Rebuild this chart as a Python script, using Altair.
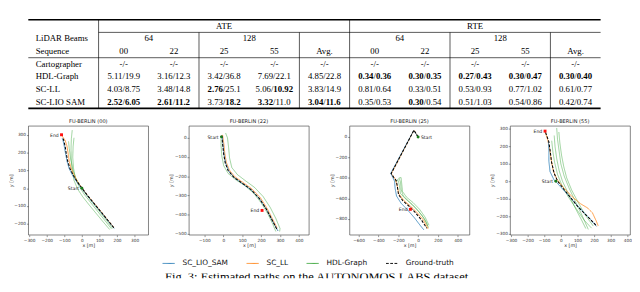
import altair as alt
import pandas as pd

# ---------------- table values ----------------
table_methods = ["Cartographer", "HDL-Graph", "SC-LL", "SC-LIO SAM"]
metric_groups = ["ATE", "RTE"]
beam_groups = ["64", "128", "64", "128"]
sequence_labels = ["00", "22", "25", "55", "Avg.", "00", "22", "25", "55", "Avg."]
# '*' marks a bold number
ate_00 = ["-/-", "5.11/19.9", "4.03/8.75", "*2.52/*6.05"]
ate_22 = ["-/-", "3.16/12.3", "3.48/14.8", "*2.61/*11.2"]
ate_25 = ["-/-", "3.42/36.8", "*2.76/25.1", "3.73/*18.2"]
ate_55 = ["-/-", "7.69/22.1", "5.06/*10.92", "*3.32/11.0"]
ate_avg = ["-/-", "4.85/22.8", "3.83/14.9", "*3.04/*11.6"]
rte_00 = ["-/-", "*0.34/*0.36", "0.81/0.64", "0.35/0.53"]
rte_22 = ["-/-", "*0.30/*0.35", "0.33/0.51", "*0.30/0.54"]
rte_25 = ["-/-", "*0.27/*0.43", "0.53/0.93", "0.51/1.03"]
rte_55 = ["-/-", "*0.30/*0.47", "0.77/1.02", "0.54/0.86"]
rte_avg = ["-/-", "*0.30/*0.40", "0.61/0.77", "0.42/0.74"]
table_columns = [ate_00, ate_22, ate_25, ate_55, ate_avg,
                 rte_00, rte_22, rte_25, rte_55, rte_avg]

# ---------------- trajectories ----------------
methods = ["SC_LIO_SAM", "SC_LL", "HDL-Graph", "Ground-truth"]
method_colors = ["#1f77b4", "#ff7f0e", "#2ca02c", "#000000"]

gt_00 = [(182, -222), (150, -183), (110, -134), (70, -86), (35, -44), (5, -5), (-25, 35), (-50, 75),
         (-68, 112), (-80, 150), (-88, 190), (-95, 235), (-102, 265), (-108, 285)]
lio_00 = [(184, -226), (150, -186), (110, -137), (70, -89), (35, -47), (5, -8), (-27, 33), (-53, 73),
          (-72, 110), (-84, 150), (-92, 190), (-100, 235), (-107, 268), (-112, 282)]
ll_00 = [(180, -218), (148, -180), (108, -130), (68, -82), (32, -40), (2, -1), (-25, 38), (-46, 78),
         (-62, 115), (-72, 152), (-78, 195), (-85, 238), (-95, 270), (-115, 298)]
hdl_00 = [
    [(158, -232), (120, -188), (80, -140), (40, -92), (5, -48), (-25, -3), (-45, 45), (-55, 100),
     (-60, 160), (-62, 220), (-60, 280), (-55, 328)],
    [(168, -228), (128, -178), (88, -128), (48, -78), (12, -32), (-18, 15), (-38, 62), (-48, 115),
     (-52, 175), (-50, 235), (-45, 285)],
    [(175, -226), (138, -178), (98, -128), (58, -78), (22, -32), (-10, 12), (-35, 58), (-52, 108),
     (-64, 165), (-72, 225), (-76, 265)],
]
start_00, end_00 = (0, 0), (-116, 302)

gt_22 = [(-8, 12), (-4, -30), (2, -85), (10, -130), (25, -170), (55, -205), (95, -233), (145, -268),
         (190, -315), (228, -372), (258, -428), (280, -470), (288, -482)]
lio_22 = [(-6, 8), (-2, -32), (4, -88), (13, -133), (29, -172), (58, -207), (98, -236), (148, -272),
          (193, -320), (231, -377), (260, -432), (283, -474), (290, -485)]
ll_22 = [(-4, 15), (2, -25), (8, -82), (16, -128), (32, -168), (60, -202), (100, -230), (150, -265),
         (196, -312), (233, -370), (262, -426), (284, -468)]
hdl_22 = [
    [(12, 25), (22, 0), (28, -50), (33, -105), (45, -155), (75, -192), (115, -222), (165, -258),
     (210, -305), (248, -362), (278, -420), (300, -472), (298, -488)],
    [(-12, 10), (-12, -40), (-8, -95), (2, -145), (25, -185), (65, -218), (115, -250), (160, -288),
     (200, -338), (235, -395), (262, -450), (278, -488)],
]
start_22, end_22 = (-10, 5), (205, -378)

gt_25 = [(0, 0), (-42, 66), (-272, -356), (-245, -395), (-220, -425), (-210, -480), (-198, -560),
         (-155, -620), (-85, -680), (-25, -740), (35, -810), (88, -890)]
lio_25 = [(0, 0), (-44, 64), (-276, -354), (-255, -395), (-238, -430), (-232, -500), (-218, -575),
          (-172, -645), (-105, -712), (-35, -790), (20, -860), (58, -905)]
ll_25 = [(0, 0), (-42, 66), (-270, -358), (-232, -408), (-212, -470), (-195, -552), (-148, -615),
         (-75, -675), (-8, -740), (55, -810), (100, -895)]
hdl_25 = [
    [(-215, -420), (-190, -405), (-178, -440), (-172, -510), (-150, -575), (-95, -625), (-25, -690),
     (40, -765), (85, -835), (105, -885)],
    [(-235, -430), (-200, -425), (-188, -480), (-178, -550), (-130, -600), (-60, -660), (10, -730),
     (65, -800), (98, -870)],
    [(-195, -400), (-172, -395), (-165, -460), (-158, -530), (-118, -585), (-50, -640), (15, -705),
     (70, -780), (110, -860)],
]
start_25, end_25 = (0, 0), (-78, -705)

gt_55 = [(-92, 280), (-72, 226), (-65, 180), (-56, 110), (-40, 45), (-20, 2), (20, -48), (60, -95),
         (100, -142), (140, -182), (175, -215), (205, -245), (217, -258)]
lio_55 = [(-75, 228), (-72, 175), (-72, 115), (-65, 55), (-42, 10), (5, -38), (52, -88), (98, -138),
          (142, -182), (182, -222), (213, -256)]
ll_55 = [(-95, 285), (-80, 240), (-70, 200), (-60, 135), (-46, 62), (-24, 12), (18, -38), (68, -88),
         (118, -128), (160, -152), (190, -180), (212, -225), (225, -255)]
hdl_55 = [
    [(-25, 305), (-20, 240), (-10, 170), (0, 100), (20, 30), (50, -40), (90, -120), (130, -200), (165, -275)],
    [(-40, 262), (-35, 200), (-25, 130), (-10, 60), (10, 0), (45, -70), (85, -150), (125, -222), (150, -270)],
    [(-55, 232), (-48, 170), (-38, 110), (-20, 40), (5, -20), (45, -90), (95, -160), (140, -222), (185, -268)],
    [(-12, 282), (-6, 220), (4, 150), (18, 82), (35, 20), (65, -50), (105, -122), (145, -190), (195, -256)],
]
start_55, end_55 = (-30, 0), (-95, 287)

panel_keys = ["00", "22", "25", "55"]
panel_titles = ["FU-BERLIN (00)", "FU-BERLIN (22)", "FU-BERLIN (25)", "FU-BERLIN (55)"]
panel_xdomain = [[-305, 378], [-182, 453], [-692, 519], [-305, 417]]
panel_ydomain = [[-262, 352], [-505, 62], [-953, 108], [-306, 317]]
panel_xticks = [[-300, -200, -100, 0, 100, 200, 300], [-100, 0, 100, 200, 300, 400],
                [-600, -400, -200, 0, 200, 400], [-300, -200, -100, 0, 100, 200, 300, 400]]
panel_yticks = [[-200, -100, 0, 100, 200, 300], [-500, -400, -300, -200, -100, 0],
                [-800, -600, -400, -200, 0], [-300, -200, -100, 0, 100, 200, 300]]
start_label_side = ["left", "left", "right", "left"]
panel_paths = {
    "00": (gt_00, lio_00, ll_00, hdl_00, start_00, end_00),
    "22": (gt_22, lio_22, ll_22, hdl_22, start_22, end_22),
    "25": (gt_25, lio_25, ll_25, hdl_25, start_25, end_25),
    "55": (gt_55, lio_55, ll_55, hdl_55, start_55, end_55),
}

caption = "Fig. 3: Estimated paths on the AUTONOMOS LABS dataset."

# ---------------- table chart ----------------
TW, TH = 620, 96
XMIN = -1.4
PPU = TW / (10 - XMIN)
FS = 9.5
SERIF = "Liberation Serif"
CW = {".": 0.25, "/": 0.278, "-": 0.333}


def text_w(s):
    return sum(CW.get(c, 0.5) for c in s) * FS


xs_tab = alt.Scale(domain=[XMIN, 10], nice=False, zero=False)
ys_tab = alt.Scale(domain=[0, 7], nice=False, zero=False, reverse=True)

hr = pd.DataFrame({"y": [0, 1, 3, 7], "x": [XMIN, 0, XMIN, XMIN], "x2": [10, 10, 10, 10],
                   "w": [1.8, 0.7, 0.7, 1.8]})
vr = pd.DataFrame({"x": [0, 5, 2, 4, 7, 9], "y": [0, 0, 1, 1, 1, 1], "y2": [7] * 6})

row_labels = pd.DataFrame({"t": ["LiDAR Beams", "Sequence"] + table_methods,
                           "x": [XMIN] * 6, "y": [1.5, 2.5, 3.5, 4.5, 5.5, 6.5]})
head_t = metric_groups + beam_groups + sequence_labels
head_x = [2.5, 7.5, 1.0, 3.0, 6.0, 8.0] + [i + 0.5 for i in range(10)]
head_y = [0.5, 0.5, 1.5, 1.5, 1.5, 1.5] + [2.5] * 10
heads = pd.DataFrame({"t": head_t, "x": head_x, "y": head_y})

parts = []
for ci, col in enumerate(table_columns):
    for ri, cell in enumerate(col):
        l, r = cell.split("/")
        lb, rb = l.startswith("*"), r.startswith("*")
        l, r = l.lstrip("*"), r.lstrip("*")
        wl, ws, wr = text_w(l), text_w("/"), text_w(r)
        left = ci + 0.5 - (wl + ws + wr) / 2 / PPU
        xl = left + wl / PPU
        y = 3.5 + ri
        parts.append({"t": l, "x": xl, "y": y, "side": "L", "bold": lb})
        parts.append({"t": "/", "x": xl + ws / 2 / PPU, "y": y, "side": "S", "bold": False})
        parts.append({"t": r, "x": xl + ws / PPU, "y": y, "side": "R", "bold": rb})
parts = pd.DataFrame(parts)


def tpos():
    return dict(x=alt.X("x:Q", scale=xs_tab, axis=None), y=alt.Y("y:Q", scale=ys_tab, axis=None))


tab_layers = [
    alt.Chart(hr).mark_rule(color="black").encode(
        x=alt.X("x:Q", scale=xs_tab, axis=None), x2="x2:Q", y=alt.Y("y:Q", scale=ys_tab, axis=None),
        strokeWidth=alt.StrokeWidth("w:Q", scale=None)),
    alt.Chart(vr).mark_rule(color="black", strokeWidth=0.7).encode(
        x=alt.X("x:Q", scale=xs_tab, axis=None), y=alt.Y("y:Q", scale=ys_tab, axis=None), y2="y2:Q"),
    alt.Chart(row_labels).mark_text(align="left", baseline="middle", dx=8, font=SERIF, fontSize=FS,
                                    color="black").encode(text="t:N", **tpos()),
    alt.Chart(heads).mark_text(align="center", baseline="middle", font=SERIF, fontSize=FS,
                               color="black").encode(text="t:N", **tpos()),
]
for side, align in [("L", "right"), ("S", "center"), ("R", "left")]:
    for bold in [False, True]:
        sub = parts[(parts.side == side) & (parts.bold == bold)]
        if len(sub) == 0:
            continue
        tab_layers.append(
            alt.Chart(sub).mark_text(align=align, baseline="middle", font=SERIF, fontSize=FS, color="black",
                                     fontWeight="bold" if bold else "normal").encode(text="t:N", **tpos()))
table = alt.layer(*tab_layers).properties(width=TW, height=TH)

# ---------------- trajectory panels ----------------
rows = []
for key, (gt, lio, ll, hdl, s, e) in panel_paths.items():
    for m, runs in [("Ground-truth", [gt]), ("SC_LIO_SAM", [lio]), ("SC_LL", [ll]), ("HDL-Graph", hdl)]:
        for ri, run in enumerate(runs):
            for i, (x, y) in enumerate(run):
                rows.append({"panel": key, "method": m, "run": ri, "i": i, "x": x, "y": y})
traj = pd.DataFrame(rows)

cscale = alt.Scale(domain=methods, range=method_colors)
dscale = alt.Scale(domain=methods, range=[[1, 0], [1, 0], [1, 0], [3, 1.6]])

PW, PH = 130, 118
panels = []
for k, key in enumerate(panel_keys):
    d = traj[traj.panel == key]
    X = alt.X("x:Q", scale=alt.Scale(domain=panel_xdomain[k], nice=False, zero=False),
              axis=alt.Axis(values=panel_xticks[k], title="x [m]"))
    Y = alt.Y("y:Q", scale=alt.Scale(domain=panel_ydomain[k], nice=False, zero=False),
              axis=alt.Axis(values=panel_yticks[k], title="y [m]"))
    layers = []
    for m, op, sw in [("HDL-Graph", 0.55, 0.9), ("SC_LL", 0.9, 0.9), ("SC_LIO_SAM", 0.9, 0.9),
                      ("Ground-truth", 1.0, 1.1)]:
        layers.append(alt.Chart(d[d.method == m]).mark_line(clip=True, opacity=op, strokeWidth=sw).encode(
            x=X, y=Y, order="i:Q", detail="run:N",
            color=alt.Color("method:N", scale=cscale, legend=None),
            strokeDash=alt.StrokeDash("method:N", scale=dscale, legend=None)))
    _, _, _, _, s, e = panel_paths[key]
    sdf = pd.DataFrame({"x": [s[0]], "y": [s[1]], "t": ["Start"]})
    edf = pd.DataFrame({"x": [e[0]], "y": [e[1]], "t": ["End"]})
    layers.append(alt.Chart(sdf).mark_point(filled=True, size=10, color="#1a7a1a", opacity=1).encode(x=X, y=Y))
    layers.append(alt.Chart(edf).mark_square(size=10, color="#ff1010", opacity=1).encode(x=X, y=Y))
    sside = start_label_side[k]
    layers.append(alt.Chart(sdf).mark_text(align="right" if sside == "left" else "left",
                                           dx=-3 if sside == "left" else 3, fontSize=5, font="DejaVu Sans",
                                           color="#222").encode(x=X, y=Y, text="t:N"))
    layers.append(alt.Chart(edf).mark_text(align="right", dx=-3, fontSize=5, font="DejaVu Sans",
                                           color="#222").encode(x=X, y=Y, text="t:N"))
    p = alt.layer(*layers).properties(
        width=PW, height=PH,
        title=alt.TitleParams(panel_titles[k], fontSize=5.5, font="DejaVu Sans", fontWeight="normal",
                              offset=2, color="#222"),
        view=alt.ViewBackground(stroke="#444", strokeWidth=0.7))
    panels.append(p)

plots_row = alt.hconcat(*panels, spacing=21)

# ---------------- legend ----------------
leg_opts = dict(title=None, orient="none", legendX=145, legendY=0, direction="horizontal",
                symbolType="stroke", symbolSize=169, symbolStrokeWidth=1, labelFont="DejaVu Sans",
                labelFontSize=8, labelColor="#111", labelOffset=8, columnPadding=17, padding=0)
leg_df = pd.DataFrame({"method": methods})
legend_chart = alt.Chart(leg_df).mark_line().encode(
    x=alt.value(0), y=alt.value(0),
    color=alt.Color("method:N", scale=cscale, legend=alt.Legend(**leg_opts)),
    strokeDash=alt.StrokeDash("method:N", scale=dscale, legend=alt.Legend(**leg_opts)),
).properties(width=620, height=10)

# ---------------- caption (cut off at the bottom, as in the source) ----------------
cap_chart = alt.Chart(pd.DataFrame({"t": [caption]})).mark_text(
    clip=True, align="center", baseline="top", font=SERIF, fontSize=13.5, color="black", dy=-3
).encode(text="t:N", x=alt.value(314), y=alt.value(0)).properties(width=628, height=5)

bottom = alt.vconcat(legend_chart, cap_chart, spacing=8)
lower = alt.vconcat(plots_row, bottom, spacing=5).resolve_scale(
    color="independent", strokeDash="independent").resolve_legend(
    color="independent", strokeDash="independent")
chart = alt.vconcat(table, lower, spacing=10).properties(padding=0).configure_view(stroke=None).configure_axis(
    domain=False, grid=False, labelFontSize=4.6, titleFontSize=5.2, labelFont="DejaVu Sans",
    titleFont="DejaVu Sans", titleFontWeight="normal", tickSize=2, tickWidth=0.6, tickColor="#444",
    labelPadding=1, titlePadding=1, labelColor="#333", titleColor="#333", labelFlush=False,
    labelOverlap=False)

chart.save("out.html", embed_options={"renderer": "svg", "actions": False})
